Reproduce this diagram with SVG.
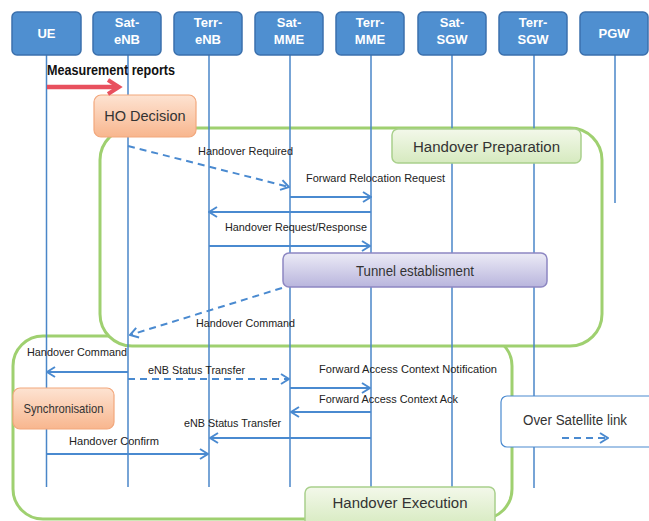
<svg xmlns="http://www.w3.org/2000/svg" width="649" height="521" viewBox="0 0 649 521">
<defs>
<linearGradient id="gOr" x1="0" y1="0" x2="0" y2="1"><stop offset="0" stop-color="#fde3d2"/><stop offset="1" stop-color="#f8b68e"/></linearGradient>
<linearGradient id="gGr" x1="0" y1="0" x2="0" y2="1"><stop offset="0" stop-color="#f3f8ea"/><stop offset="1" stop-color="#d6eabf"/></linearGradient>
<linearGradient id="gPu" x1="0" y1="0" x2="0" y2="1"><stop offset="0" stop-color="#ecebf6"/><stop offset="1" stop-color="#b9b5dd"/></linearGradient>
<marker id="ah" viewBox="0 0 10 12" refX="9" refY="6" markerWidth="10" markerHeight="12" markerUnits="userSpaceOnUse" orient="auto">
<path d="M1,1 L9,6 L1,11" fill="none" stroke="#4a8ad0" stroke-width="2"/>
</marker>
</defs>
<style>
.hdr rect{fill:#4f8fd0;stroke:#3b70ad;stroke-width:1.5}
.hdr text{fill:#fff;font-family:"Liberation Sans",Arial,sans-serif;font-weight:bold;font-size:13px;text-anchor:middle}
.life{stroke:#4a86c8;stroke-width:1.5}
.msg{stroke:#4a8ad0;stroke-width:2;fill:none;marker-end:url(#ah)}
.dash{stroke-dasharray:7,5}
.lbl{font-family:"Liberation Sans",Arial,sans-serif;font-size:11.5px;fill:#222}
.big{fill:#fff;stroke:#9fd070;stroke-width:3}
.boxt{font-family:"Liberation Sans",Arial,sans-serif;fill:#333;text-anchor:middle}
</style>
<rect width="649" height="521" fill="#fff"/>

<!-- phase frames -->
<g id="execution"><rect class="big" x="13" y="336" width="499" height="183" rx="30"/></g>
<g id="preparation"><rect class="big" x="100" y="128" width="502" height="218" rx="32"/></g>

<!-- lifelines -->
<g id="lifelines">
<line class="life" x1="46.5" y1="55" x2="46.5" y2="487"/>
<line class="life" x1="128" y1="55" x2="128" y2="487"/>
<line class="life" x1="209" y1="55" x2="209" y2="487"/>
<line class="life" x1="290" y1="55" x2="290" y2="487"/>
<line class="life" x1="371" y1="55" x2="371" y2="487"/>
<line class="life" x1="452" y1="55" x2="452" y2="487"/>
<line class="life" x1="534" y1="55" x2="534" y2="488"/>
<line class="life" x1="615" y1="55" x2="615" y2="203"/>
</g>

<!-- header nodes -->
<g id="UE" class="hdr"><rect x="12" y="12" width="69" height="43" rx="5"/><text x="46.5" y="38">UE</text></g>
<g id="Sat-eNB" class="hdr"><rect x="93" y="12" width="68" height="43" rx="5"/><text x="127" y="27">Sat-</text><text x="127" y="44">eNB</text></g>
<g id="Terr-eNB" class="hdr"><rect x="174" y="12" width="68" height="43" rx="5"/><text x="208" y="27">Terr-</text><text x="208" y="44">eNB</text></g>
<g id="Sat-MME" class="hdr"><rect x="255" y="12" width="68" height="43" rx="5"/><text x="289" y="27">Sat-</text><text x="289" y="44">MME</text></g>
<g id="Terr-MME" class="hdr"><rect x="336" y="12" width="68" height="43" rx="5"/><text x="370" y="27">Terr-</text><text x="370" y="44">MME</text></g>
<g id="Sat-SGW" class="hdr"><rect x="418" y="12" width="68" height="43" rx="5"/><text x="452" y="27">Sat-</text><text x="452" y="44">SGW</text></g>
<g id="Terr-SGW" class="hdr"><rect x="499" y="12" width="68" height="43" rx="5"/><text x="533" y="27">Terr-</text><text x="533" y="44">SGW</text></g>
<g id="PGW" class="hdr"><rect x="580" y="12" width="68" height="43" rx="5"/><text x="614" y="38">PGW</text></g>

<!-- boxes -->
<g id="ho-decision"><rect x="94" y="95" width="102" height="42" rx="7" fill="url(#gOr)" stroke="#f2a77c" stroke-width="1.2"/><text class="boxt" x="145" y="121" font-size="14.5">HO Decision</text></g>
<g id="prep-label"><rect x="392" y="129" width="189" height="34" rx="6" fill="url(#gGr)" stroke="#a9d08c" stroke-width="1.5"/><text class="boxt" x="486.5" y="152" font-size="15.5" textLength="147" lengthAdjust="spacingAndGlyphs">Handover Preparation</text></g>
<g id="tunnel"><rect x="283" y="253" width="264" height="34" rx="6" fill="url(#gPu)" stroke="#8d87c2" stroke-width="1.5"/><text class="boxt" x="415" y="276" font-size="14" textLength="118" lengthAdjust="spacingAndGlyphs">Tunnel establisment</text></g>
<g id="sync"><rect x="13" y="388" width="101" height="41" rx="7" fill="url(#gOr)" stroke="#f2a77c" stroke-width="1.2"/><text class="boxt" x="63.5" y="413" font-size="13" textLength="80" lengthAdjust="spacingAndGlyphs">Synchronisation</text></g>
<g id="exec-label"><rect x="305" y="487" width="190" height="40" rx="6" fill="url(#gGr)" stroke="#a9d08c" stroke-width="1.5"/><text class="boxt" x="400" y="508" font-size="15.5" textLength="135" lengthAdjust="spacingAndGlyphs">Handover Execution</text></g>
<g id="sat-link"><rect x="501" y="396" width="160" height="51" rx="6" fill="#fff" stroke="#4a8ad0" stroke-width="1.2"/><text class="boxt" x="575" y="425" font-size="14" fill="#222" textLength="104" lengthAdjust="spacingAndGlyphs">Over Satellite link</text><line class="msg dash" x1="562" y1="438" x2="608" y2="438"/></g>

<!-- connectors -->
<g id="connectors">
<text x="47" y="75" font-family="Liberation Sans,Arial,sans-serif" font-weight="bold" font-size="14" fill="#111" textLength="128" lengthAdjust="spacingAndGlyphs">Measurement reports</text>
<line x1="47" y1="87" x2="117" y2="87" stroke="#e8505e" stroke-width="4.5"/>
<path d="M108,80 L119,87 L108,94" fill="none" stroke="#e8505e" stroke-width="4"/>

<line class="msg dash" x1="128" y1="146" x2="289" y2="187"/>
<text class="lbl" x="198" y="155" textLength="95" lengthAdjust="spacingAndGlyphs">Handover Required</text>

<line class="msg" x1="290" y1="197" x2="371" y2="197"/>
<text class="lbl" x="306" y="182" textLength="139" lengthAdjust="spacingAndGlyphs">Forward Relocation Request</text>

<line class="msg" x1="371" y1="212" x2="209" y2="212"/>
<text class="lbl" x="225" y="231" textLength="142" lengthAdjust="spacingAndGlyphs">Handover Request/Response</text>
<line class="msg" x1="209" y1="246" x2="370" y2="246"/>

<line class="msg dash" x1="282" y1="288" x2="130" y2="335"/>
<text class="lbl" x="196" y="327" textLength="99" lengthAdjust="spacingAndGlyphs">Handover Command</text>

<text class="lbl" x="27" y="356" textLength="100" lengthAdjust="spacingAndGlyphs">Handover Command</text>
<line class="msg" x1="128" y1="372" x2="47" y2="372"/>

<text class="lbl" x="148" y="374" textLength="97" lengthAdjust="spacingAndGlyphs">eNB Status Transfer</text>
<line class="msg dash" x1="128" y1="379" x2="289" y2="379"/>

<text class="lbl" x="319" y="373" textLength="178" lengthAdjust="spacingAndGlyphs">Forward Access Context Notification</text>
<line class="msg" x1="290" y1="388" x2="370" y2="388"/>

<text class="lbl" x="319" y="403" textLength="139" lengthAdjust="spacingAndGlyphs">Forward Access Context Ack</text>
<line class="msg" x1="371" y1="412" x2="291" y2="412"/>

<text class="lbl" x="184" y="427" textLength="97" lengthAdjust="spacingAndGlyphs">eNB Status Transfer</text>
<line class="msg" x1="371" y1="438" x2="210" y2="438"/>

<text class="lbl" x="69" y="445" textLength="90" lengthAdjust="spacingAndGlyphs">Handover Confirm</text>
<line class="msg" x1="47" y1="454" x2="208" y2="454"/>
</g>
</svg>
